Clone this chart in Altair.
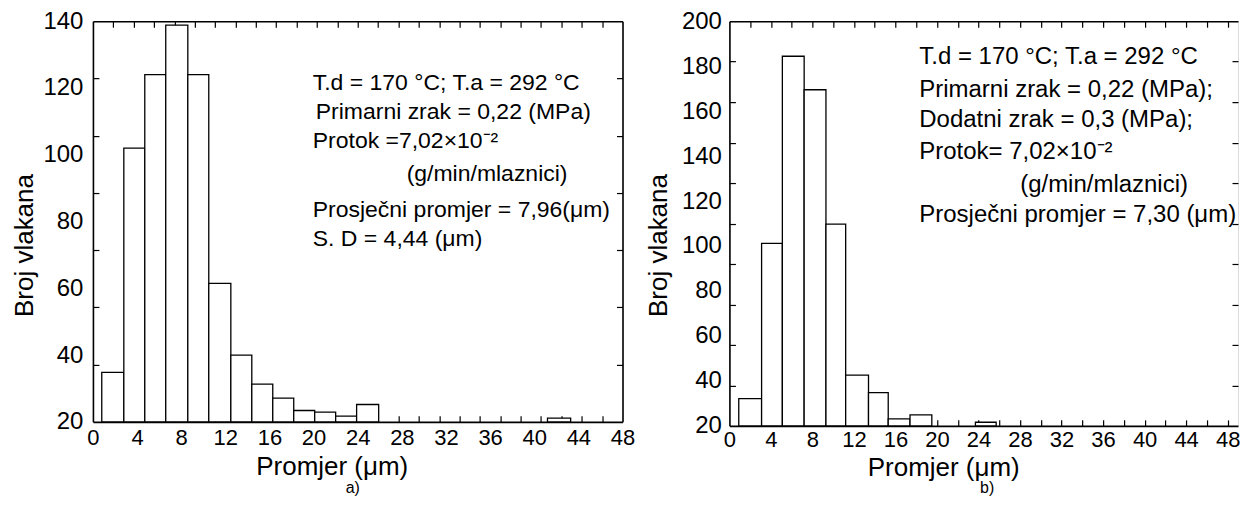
import altair as alt
import pandas as pd

# ---------------- data ----------------
# panel a) : bin edges (µm) and counts
a_lo = [0.8, 2.8, 4.7, 6.6, 8.6, 10.5, 12.5, 14.4, 16.3, 18.2, 20.1, 22.0, 23.9, 41.2]
a_hi = [2.8, 4.7, 6.6, 8.6, 10.5, 12.5, 14.4, 16.3, 18.2, 20.1, 22.0, 23.9, 25.9, 43.3]
a_count = [34.8, 102.0, 124.0, 138.8, 124.0, 61.5, 40.0, 31.3, 27.1, 23.4, 22.9, 21.7, 25.2, 21.1]

# panel b)
b_lo = [0.9, 3.1, 5.1, 7.2, 9.3, 11.2, 13.4, 15.3, 17.4, 23.7]
b_hi = [3.1, 5.1, 7.2, 9.3, 11.2, 13.4, 15.3, 17.4, 19.5, 25.7]
b_count = [32.1, 101.2, 184.4, 169.5, 109.7, 42.6, 34.8, 23.1, 24.9, 21.6]

x_labels = [0, 4, 8, 12, 16, 20, 24, 28, 32, 36, 40, 44, 48]
a_y_labels = [20, 40, 60, 80, 100, 120, 140]
b_y_labels = [20, 40, 60, 80, 100, 120, 140, 160, 180, 200]

a_text = [
    "T.d = 170 °C; T.a = 292 °C",
    "Primarni zrak = 0,22 (MPa)",
    "Protok =7,02×10⁻²",
    "(g/min/mlaznici)",
    "Prosječni promjer = 7,96(μm)",
    "S. D = 4,44 (μm)",
]
b_text = [
    "T.d = 170 °C; T.a = 292 °C",
    "Primarni zrak = 0,22 (MPa);",
    "Dodatni zrak = 0,3 (MPa);",
    "Protok= 7,02×10⁻²",
    "(g/min/mlaznici)",
    "Prosječni  promjer  = 7,30 (μm)",
]

x_title = "Promjer (μm)"
y_title = "Broj vlakana"

# ---------------- layout / style ----------------
FONT = "Liberation Sans"
a_text_pos = [(220, 62), (223, 91), (220, 120), (314, 153), (220, 189), (220, 218)]
b_text_pos = [(190, 36), (190, 69), (190, 99), (190, 131), (291, 164), (190, 194)]

a_xticks = [48 * k / 26 for k in range(1, 26)]
a_yticks = [20 + 120 * k / 7 for k in range(1, 7)]
b_xticks = [2 * k for k in range(1, 25)]
b_yticks = [20 + 18 * k for k in range(1, 10)]


def panel(lo, hi, cnt, xdom, ydom, yvals, xticks, yticks, W, H, lines, line_pos,
          text_size, tag, tag_pos, title_x, title_y, ytitle_y, title_pad, label_pad,
          xlabel_pad, right_frame):
    df = pd.DataFrame({"lo": lo, "hi": hi, "count": cnt})
    xs = alt.Scale(domain=xdom, nice=False, zero=False)
    ys = alt.Scale(domain=ydom, nice=False, zero=False)
    base = alt.Chart(df).transform_calculate(base=str(ydom[0]))

    bars = base.mark_rect(fill="white", stroke="black", strokeWidth=1.3).encode(
        x=alt.X("lo:Q", scale=xs, axis=alt.Axis(
            orient="bottom", values=x_labels, ticks=False, grid=False,
            labelFont=FONT, labelFontSize=22, labelColor="black", labelPadding=xlabel_pad,
            labelOverlap=False, labelFlush=False,
            domainColor="black", domainWidth=1.6,
            title=x_title, titleFont=FONT, titleFontSize=26, titleFontWeight="normal",
            titleColor="black", titleX=title_x, titleY=title_y, titleAlign="center",
            titleBaseline="alphabetic")),
        x2="hi:Q",
        y=alt.Y("count:Q", scale=ys, axis=alt.Axis(
            orient="left", values=yvals, ticks=False, grid=False,
            labelFont=FONT, labelFontSize=24, labelColor="black", labelPadding=label_pad,
            labelOverlap=False, labelFlush=False,
            domainColor="black", domainWidth=1.6,
            title=y_title, titleFont=FONT, titleFontSize=26, titleFontWeight="normal",
            titleColor="black", titlePadding=title_pad, titleY=ytitle_y)),
        y2="base:Q",
    )

    tick_style = dict(labels=False, grid=False, tickSize=6, tickColor="black",
                      tickWidth=1.2, title=None, domainColor="black", domainWidth=1.6)
    ghost = base.mark_point(opacity=0, size=1)
    t1 = ghost.encode(
        x=alt.X("lo:Q", scale=xs, axis=alt.Axis(orient="top", offset=-H, values=xticks,
                                               domain=False, **tick_style)),
        y=alt.Y("count:Q", scale=ys, axis=alt.Axis(orient="right", offset=-W, values=yticks,
                                                  domain=False, **tick_style)),
    )
    t2 = ghost.encode(
        x=alt.X("lo:Q", scale=xs, axis=alt.Axis(orient="bottom", offset=-H, values=xticks,
                                               domain=True, **tick_style)),
        y=alt.Y("count:Q", scale=ys, axis=alt.Axis(orient="left", offset=-W, values=yticks,
                                                  domain=right_frame, **tick_style)),
    )

    texts = []
    for t, (px, py) in zip(lines, line_pos):
        texts.append(
            alt.Chart(pd.DataFrame({"t": [t]})).mark_text(
                align="left", baseline="middle", font=FONT, fontSize=text_size, color="black"
            ).encode(x=alt.value(px), y=alt.value(py), text="t:N")
        )
    tag_mark = alt.Chart(pd.DataFrame({"t": [tag]})).mark_text(
        align="center", baseline="middle", font=FONT, fontSize=16, color="black"
    ).encode(x=alt.value(tag_pos[0]), y=alt.value(tag_pos[1]), text="t:N")

    return alt.layer(bars, t1, t2, *texts, tag_mark).resolve_scale(
        x="shared", y="shared").resolve_axis(x="independent", y="independent").properties(
        width=W, height=H)


left = panel(a_lo, a_hi, a_count, [0, 48], [20, 140], a_y_labels, a_xticks, a_yticks,
             530, 401, a_text, a_text_pos, 23, "a)", (260, 467.5), 239, 53, 224, 5, 10, 6, True)
right = panel(b_lo, b_hi, b_count, [0, 49], [20, 200], b_y_labels, b_xticks, b_yticks,
              509, 405, b_text, b_text_pos, 24, "b)", (258, 467.5), 214, 49.5, 224, 10, 8, 4,
              False)

chart = alt.hconcat(left, right, spacing=9).properties(
    padding={"left": 3, "top": 0, "right": 0, "bottom": 0}
).configure_view(stroke=None).configure(background="white")

chart.save("out.html", embed_options={"renderer": "svg", "actions": False})
